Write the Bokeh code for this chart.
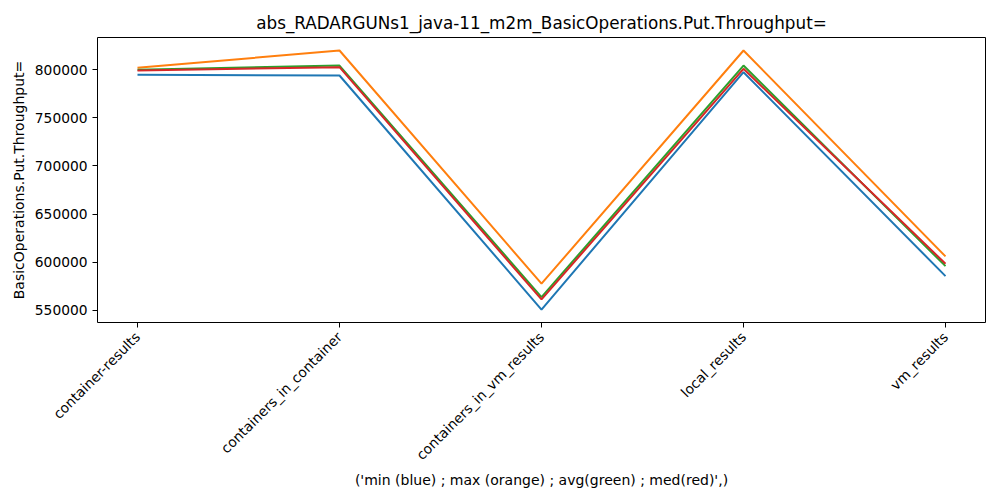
import math
from bokeh.plotting import figure
from bokeh.models import Range1d, FixedTicker, NumeralTickFormatter
from bokeh.embed import file_html
from bokeh.resources import INLINE

categories = ["container-results", "containers_in_container", "containers_in_vm_results",
              "local_results", "vm_results"]
min_vals = [794500, 793800, 551000, 797200, 585700]
max_vals = [801800, 819700, 577800, 819700, 606100]
avg_vals = [799700, 804100, 563900, 804100, 596000]
med_vals = [799000, 802400, 561500, 800700, 598500]
y_ticks = [550000, 600000, 650000, 700000, 750000, 800000]

FONT = "DejaVu Sans"

p = figure(width=1000, height=500, output_backend="svg", toolbar_location=None,
           x_range=Range1d(-0.198, 4.198), y_range=Range1d(537550, 833200),
           min_border_left=97, min_border_right=15, min_border_top=37, min_border_bottom=178)

xs = list(range(len(categories)))
for vals, col in [(min_vals, "#1f77b4"), (max_vals, "#ff7f0e"), (avg_vals, "#2ca02c"), (med_vals, "#d62728")]:
    p.line(xs, vals, line_color=col, line_width=2)

p.title.text = "abs_RADARGUNs1_java-11_m2m_BasicOperations.Put.Throughput="
p.title.align = "center"
p.title.text_font = FONT
p.title.text_font_size = "16.8px"
p.title.text_font_style = "normal"
p.title.text_color = "black"

p.xgrid.visible = False
p.ygrid.visible = False
p.outline_line_color = "black"
p.outline_line_alpha = 1

p.xaxis.ticker = FixedTicker(ticks=xs)
p.xaxis.major_label_overrides = {i: c for i, c in enumerate(categories)}
p.xaxis.major_label_orientation = math.pi / 4
p.xaxis.axis_label = "('min (blue) ; max (orange) ; avg(green) ; med(red)',)"
p.xaxis.major_label_standoff = 7
p.xaxis.axis_label_standoff = 0

p.yaxis.ticker = FixedTicker(ticks=y_ticks)
p.yaxis.formatter = NumeralTickFormatter(format="0")
p.yaxis.axis_label = "BasicOperations.Put.Throughput="

for ax in [p.xaxis[0], p.yaxis[0]]:
    ax.minor_tick_line_color = None
    ax.major_tick_out = 5
    ax.major_tick_in = 0
    ax.axis_line_color = None
    ax.major_label_text_font = FONT
    ax.major_label_text_font_size = "13.8px"
    ax.major_label_text_color = "black"
    ax.axis_label_text_font = FONT
    ax.axis_label_text_font_size = "14px"
    ax.axis_label_text_font_style = "normal"
    ax.axis_label_text_color = "black"
    ax.major_tick_line_color = "black"

open("out.html", "w").write(file_html(p, INLINE))
